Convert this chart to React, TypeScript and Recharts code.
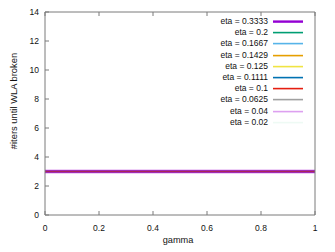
import { LineChart, Line, XAxis, YAxis, Legend } from "recharts";

const gammaValues = [0, 0.2, 0.4, 0.6, 0.8, 1];
const xTicks = [0, 0.2, 0.4, 0.6, 0.8, 1];
const yTicks = [0, 2, 4, 6, 8, 10, 12, 14];

const iters3333 = [3, 3, 3, 3, 3, 3];
const iters2 = [3, 3, 3, 3, 3, 3];
const iters1667 = [3, 3, 3, 3, 3, 3];
const iters1429 = [3, 3, 3, 3, 3, 3];
const iters125 = [3, 3, 3, 3, 3, 3];
const iters1111 = [3, 3, 3, 3, 3, 3];
const iters1 = [3, 3, 3, 3, 3, 3];
const iters0625 = [3, 3, 3, 3, 3, 3];
const iters04 = [3, 3, 3, 3, 3, 3];
const iters02 = [3, 3, 3, 3, 3, 3];

// legend order
const series = [
  { key: "e3333", label: "eta = 0.3333", color: "#9400d3", values: iters3333 },
  { key: "e2", label: "eta = 0.2", color: "#009e73", values: iters2 },
  { key: "e1667", label: "eta = 0.1667", color: "#56b4e9", values: iters1667 },
  { key: "e1429", label: "eta = 0.1429", color: "#e69f00", values: iters1429 },
  { key: "e125", label: "eta = 0.125", color: "#f0e442", values: iters125 },
  { key: "e1111", label: "eta = 0.1111", color: "#0072b2", values: iters1111 },
  { key: "e1", label: "eta = 0.1", color: "#e51e10", values: iters1 },
  { key: "e0625", label: "eta = 0.0625", color: "#a0a0a0", values: iters0625 },
  { key: "e04", label: "eta = 0.04", color: "#dda0f0", values: iters04 },
  { key: "e02", label: "eta = 0.02", color: "#eefaf4", values: iters02 },
];

// drawing order so the overlapping lines look like the original
const drawOrder = ["e2", "e1667", "e1429", "e125", "e0625", "e02", "e04", "e3333", "e1111", "e1"];

const data = gammaValues.map((g, i) => {
  const row: Record<string, number> = { gamma: g };
  series.forEach((s) => (row[s.key] = s.values[i]));
  return row;
});

const font = "'Liberation Sans', Arial, Helvetica, sans-serif";
const frame = "#7a7a7a";

const renderLegend = () => (
  <div style={{ fontFamily: font, fontSize: 8.5, color: "#111" }}>
    {series.map((s) => (
      <div key={s.key} style={{ display: "flex", height: 11.2, lineHeight: "11.2px" }}>
        <span style={{ width: 68, textAlign: "right", whiteSpace: "nowrap" }}>{s.label}</span>
        <svg width={35} height={11.2} style={{ marginLeft: 5 }}>
          <line x1={0} x2={30} y1={5.6} y2={5.6} stroke={s.color} strokeWidth={s.key === "e3333" ? 2.4 : 1.6} />
        </svg>
      </div>
    ))}
  </div>
);

const renderYLabel = (props: any) => {
  const vb = props.viewBox;
  const x = vb.x + 16.5;
  const y = vb.y + vb.height / 2 - 12.5;
  return (
    <text x={x} y={y} transform={`rotate(-90 ${x} ${y})`} textAnchor="middle" fontFamily={font} fontSize={9.4} fill="#111">
      #iters until WLA broken
    </text>
  );
};

const renderXLabel = (props: any) => {
  const vb = props.viewBox;
  return (
    <text x={vb.x + vb.width / 2 - 2} y={243} textAnchor="middle" fontFamily={font} fontSize={9.2} fill="#111">
      gamma
    </text>
  );
};

export default function App() {
  return (
    <div style={{ position: "absolute", left: 0, top: 0, background: "#fff" }}>
      <LineChart width={335} height={252} data={data} margin={{ top: 11, right: 19, bottom: 0, left: 0 }}>
        <XAxis
          dataKey="gamma"
          type="number"
          domain={[0, 1]}
          ticks={xTicks}
          interval={0}
          height={37}
          tickSize={-4}
          tickMargin={14}
          stroke={frame}
          tick={{ fill: "#111", fontSize: 8.5, fontFamily: font }}
          label={renderXLabel}
        />
        <XAxis
          xAxisId="t"
          orientation="top"
          dataKey="gamma"
          type="number"
          domain={[0, 1]}
          ticks={xTicks}
          interval={0}
          height={1}
          tickSize={-4}
          stroke={frame}
          tickFormatter={() => ""}
        />
        <YAxis
          type="number"
          domain={[0, 14]}
          ticks={yTicks}
          interval={0}
          width={45}
          tickSize={-4}
          tickMargin={10}
          stroke={frame}
          tick={{ fill: "#111", fontSize: 8.5, fontFamily: font }}
          label={renderYLabel}
        />
        <YAxis
          yAxisId="r"
          orientation="right"
          type="number"
          domain={[0, 14]}
          ticks={yTicks}
          interval={0}
          width={1}
          tickSize={-4}
          stroke={frame}
          tickFormatter={() => ""}
        />
        <Legend
          layout="vertical"
          align="center"
          verticalAlign="middle"
          content={renderLegend}
          wrapperStyle={{ top: 16.1, left: 200, width: 110 }}
        />
        {drawOrder.map((k) => {
          const s = series.find((x) => x.key === k)!;
          let w = 1.8;
          let op = 1;
          if (k === "e04") w = 4;
          if (k === "e3333") w = 2.4;
          if (k === "e1111") { w = 1.6; op = 0.45; }
          if (k === "e1") { w = 1.6; op = 0.6; }
          return (
            <Line
              key={k}
              dataKey={k}
              stroke={s.color}
              strokeWidth={w}
              strokeOpacity={op}
              dot={false}
              activeDot={false}
              isAnimationActive={false}
              legendType="none"
            />
          );
        })}
      </LineChart>
    </div>
  );
}
